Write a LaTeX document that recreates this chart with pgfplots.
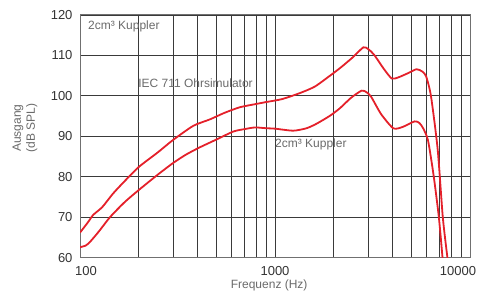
\documentclass[border=0pt]{standalone}
\usepackage{fontspec}
\setmainfont{Liberation Sans}
\usepackage{pgfplots}
\pgfplotsset{compat=1.18}
\definecolor{curve}{HTML}{E4202A}
\definecolor{gridc}{HTML}{3A3A3A}
\definecolor{framec}{HTML}{707070}
\definecolor{tickc}{HTML}{333333}
\definecolor{labc}{HTML}{6A6A6A}
\begin{document}
\begin{tikzpicture}
\useasboundingbox (0,0) rectangle (477pt,294pt);
\begin{axis}[
  at={(80pt,36.3pt)}, anchor=south west,
  scale only axis, width=390pt, height=242.7pt,
  xmode=log, xmin=100, xmax=10000, ymin=60, ymax=120,
  ytick={60,70,...,120},
  xtick={100,1000,10000},
  minor xtick={200,300,400,500,600,700,800,900,2000,3000,4000,5000,6000,7000,8000,9000},
  xticklabels={\hspace*{12pt}100,1000,10000\kern24pt\relax},
  log basis x=10,
  xmajorgrids, xminorgrids, ymajorgrids,
  grid style={draw=gridc, line width=0.9pt},
  minor grid style={draw=gridc, line width=0.9pt},
  axis line style={draw=framec, line width=1pt},
  major tick length=0pt, minor tick length=0pt,
  tick label style={font=\fontsize{13}{15}\selectfont, text=tickc},
  /pgf/number format/assume math mode=true,
  yticklabel style={xshift=-4pt},
  xticklabel style={yshift=-5pt},
  xlabel={Frequenz (Hz)},
  xlabel style={font=\fontsize{12}{14}\selectfont, text=labc, at={(axis description cs:0.485,0)}, anchor=center, yshift=-28pt},
  ylabel={Ausgang\\(dB SPL)},
  ylabel style={font=\fontsize{12}{14}\selectfont, text=labc, align=center, at={(axis description cs:-0.141,0.534)}, anchor=center},
  clip=true,
]
\addplot[curve, line width=1.8pt, smooth, tension=0.4] coordinates {
(100,66.2) (110,68.8) (117,70.6) (130,72.5) (148,75.9) (170,79.0) (201,82.5)
(250,86.0) (300,89.1) (381,92.6) (464,94.2) (550,95.8) (661,97.2) (800,98.0)
(905,98.5) (1085,99.2) (1342,100.7) (1600,102.3) (1915,105.0) (2158,106.9)
(2500,109.5) (2837,112.0) (3000,111.6) (3220,110.2) (3600,106.8) (3969,104.3)
(4300,104.6) (4800,105.6) (5320,106.6) (5700,106.0) (5960,104.8) (6310,99.9)
(6830,86.7) (7250,70.1) (7660,60) (7750,58)
};
\addplot[curve, line width=1.8pt, smooth, tension=0.4] coordinates {
(100,62.6) (107,63.0) (113,64.0) (125,66.5) (143,70.1) (170,73.8) (201,76.8)
(250,80.5) (300,83.4) (350,85.5) (412,87.3) (500,89.2) (612,91.2) (700,91.8)
(790,92.2) (905,92.0) (1000,91.9) (1240,91.4) (1450,92.0) (1630,93.1)
(1915,95.1) (2158,97.0) (2450,99.5) (2780,101.3) (2950,100.9) (3120,99.7)
(3500,95.5) (4040,92.0) (4500,92.3) (5200,93.7) (5500,93.3) (5750,92.0)
(6090,89.0) (6500,80.5) (6920,70.1) (7230,60) (7300,58)
};
\node[anchor=west, font=\fontsize{12}{14}\selectfont, text=labc, inner sep=0pt] at (axis cs:109.9,117.1) {2cm³ Kuppler};
\node[anchor=west, font=\fontsize{12}{14}\selectfont, text=labc, inner sep=0pt] at (axis cs:198.5,103.2) {IEC 711 Ohrsimulator};
\node[anchor=west, font=\fontsize{12}{14}\selectfont, text=labc, inner sep=0pt] at (axis cs:1000,87.9) {2cm³ Kuppler};
\end{axis}
\end{tikzpicture}
\end{document}
